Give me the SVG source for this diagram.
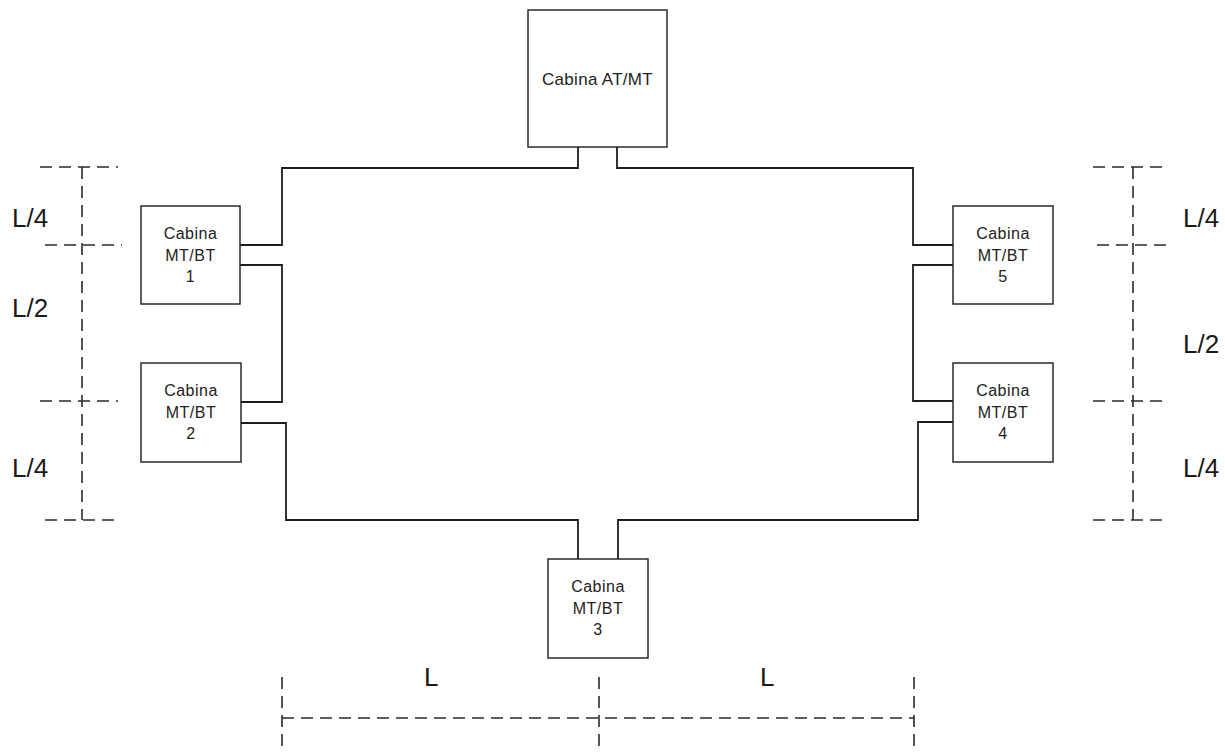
<svg xmlns="http://www.w3.org/2000/svg" width="1225" height="752" viewBox="0 0 1225 752">
<style>
.box{fill:#fff;stroke:#2a2a2a;stroke-width:1.5}
.wire{fill:none;stroke:#1e1e1e;stroke-width:1.8}
.dim{fill:none;stroke:#2a2a2a;stroke-width:1.6;stroke-dasharray:12 7}
.t{font-family:"Liberation Sans",Arial,sans-serif;font-size:16px;fill:#222;text-anchor:middle;letter-spacing:0.5px}
.big{font-family:"Liberation Sans",Arial,sans-serif;font-size:26px;fill:#1a1a1a}
</style>
<rect width="1225" height="752" fill="#fff"/>
<g id="connectors">
<path class="wire" d="M578,147 V168 H282 V245 H240"/>
<path class="wire" d="M240,265 H282 V402 H241"/>
<path class="wire" d="M241,423 H286 V520 H578 V559"/>
<path class="wire" d="M617,147 V168 H913 V245 H953"/>
<path class="wire" d="M953,265 H913 V401 H953"/>
<path class="wire" d="M953,422 H918 V520 H618 V559"/>
</g>
<g id="node-atmt">
<rect class="box" x="528" y="10" width="139" height="137"/>
<text class="t" x="597.5" y="85" style="font-size:17px;letter-spacing:0.3px">Cabina AT/MT</text>
</g>
<g id="node-1">
<rect class="box" x="141" y="206" width="99" height="98"/>
<text class="t" x="190.5" y="239">Cabina</text>
<text class="t" x="190.5" y="261">MT/BT</text>
<text class="t" x="190.5" y="282">1</text>
</g>
<g id="node-2">
<rect class="box" x="141" y="363" width="100" height="99"/>
<text class="t" x="191" y="396">Cabina</text>
<text class="t" x="191" y="418">MT/BT</text>
<text class="t" x="191" y="439">2</text>
</g>
<g id="node-3">
<rect class="box" x="548" y="559" width="100" height="99"/>
<text class="t" x="598" y="592">Cabina</text>
<text class="t" x="598" y="614">MT/BT</text>
<text class="t" x="598" y="635">3</text>
</g>
<g id="node-4">
<rect class="box" x="953" y="363" width="100" height="99"/>
<text class="t" x="1003" y="396">Cabina</text>
<text class="t" x="1003" y="418">MT/BT</text>
<text class="t" x="1003" y="439">4</text>
</g>
<g id="node-5">
<rect class="box" x="953" y="206" width="100" height="98"/>
<text class="t" x="1003" y="239">Cabina</text>
<text class="t" x="1003" y="261">MT/BT</text>
<text class="t" x="1003" y="282">5</text>
</g>
<g id="dimensions">
<path class="dim" d="M82,167 V520"/>
<path class="dim" d="M40,167 H118"/>
<path class="dim" d="M45,245 H122"/>
<path class="dim" d="M40,401 H118"/>
<path class="dim" d="M45,520 H118"/>
<path class="dim" d="M1133,167 V520"/>
<path class="dim" d="M1093,167 H1168"/>
<path class="dim" d="M1097,245 H1172"/>
<path class="dim" d="M1093,401 H1168"/>
<path class="dim" d="M1093,520 H1168"/>
<path class="dim" d="M282,677 V752"/>
<path class="dim" d="M599,677 V752"/>
<path class="dim" d="M914,677 V752"/>
<path class="dim" d="M282,718 H914"/>
<text class="big" x="12" y="227">L/4</text>
<text class="big" x="12" y="317">L/2</text>
<text class="big" x="12" y="477">L/4</text>
<text class="big" x="1183" y="227">L/4</text>
<text class="big" x="1183" y="353">L/2</text>
<text class="big" x="1183" y="477">L/4</text>
<text class="big" x="424" y="686">L</text>
<text class="big" x="760" y="686">L</text>
</g>
</svg>
